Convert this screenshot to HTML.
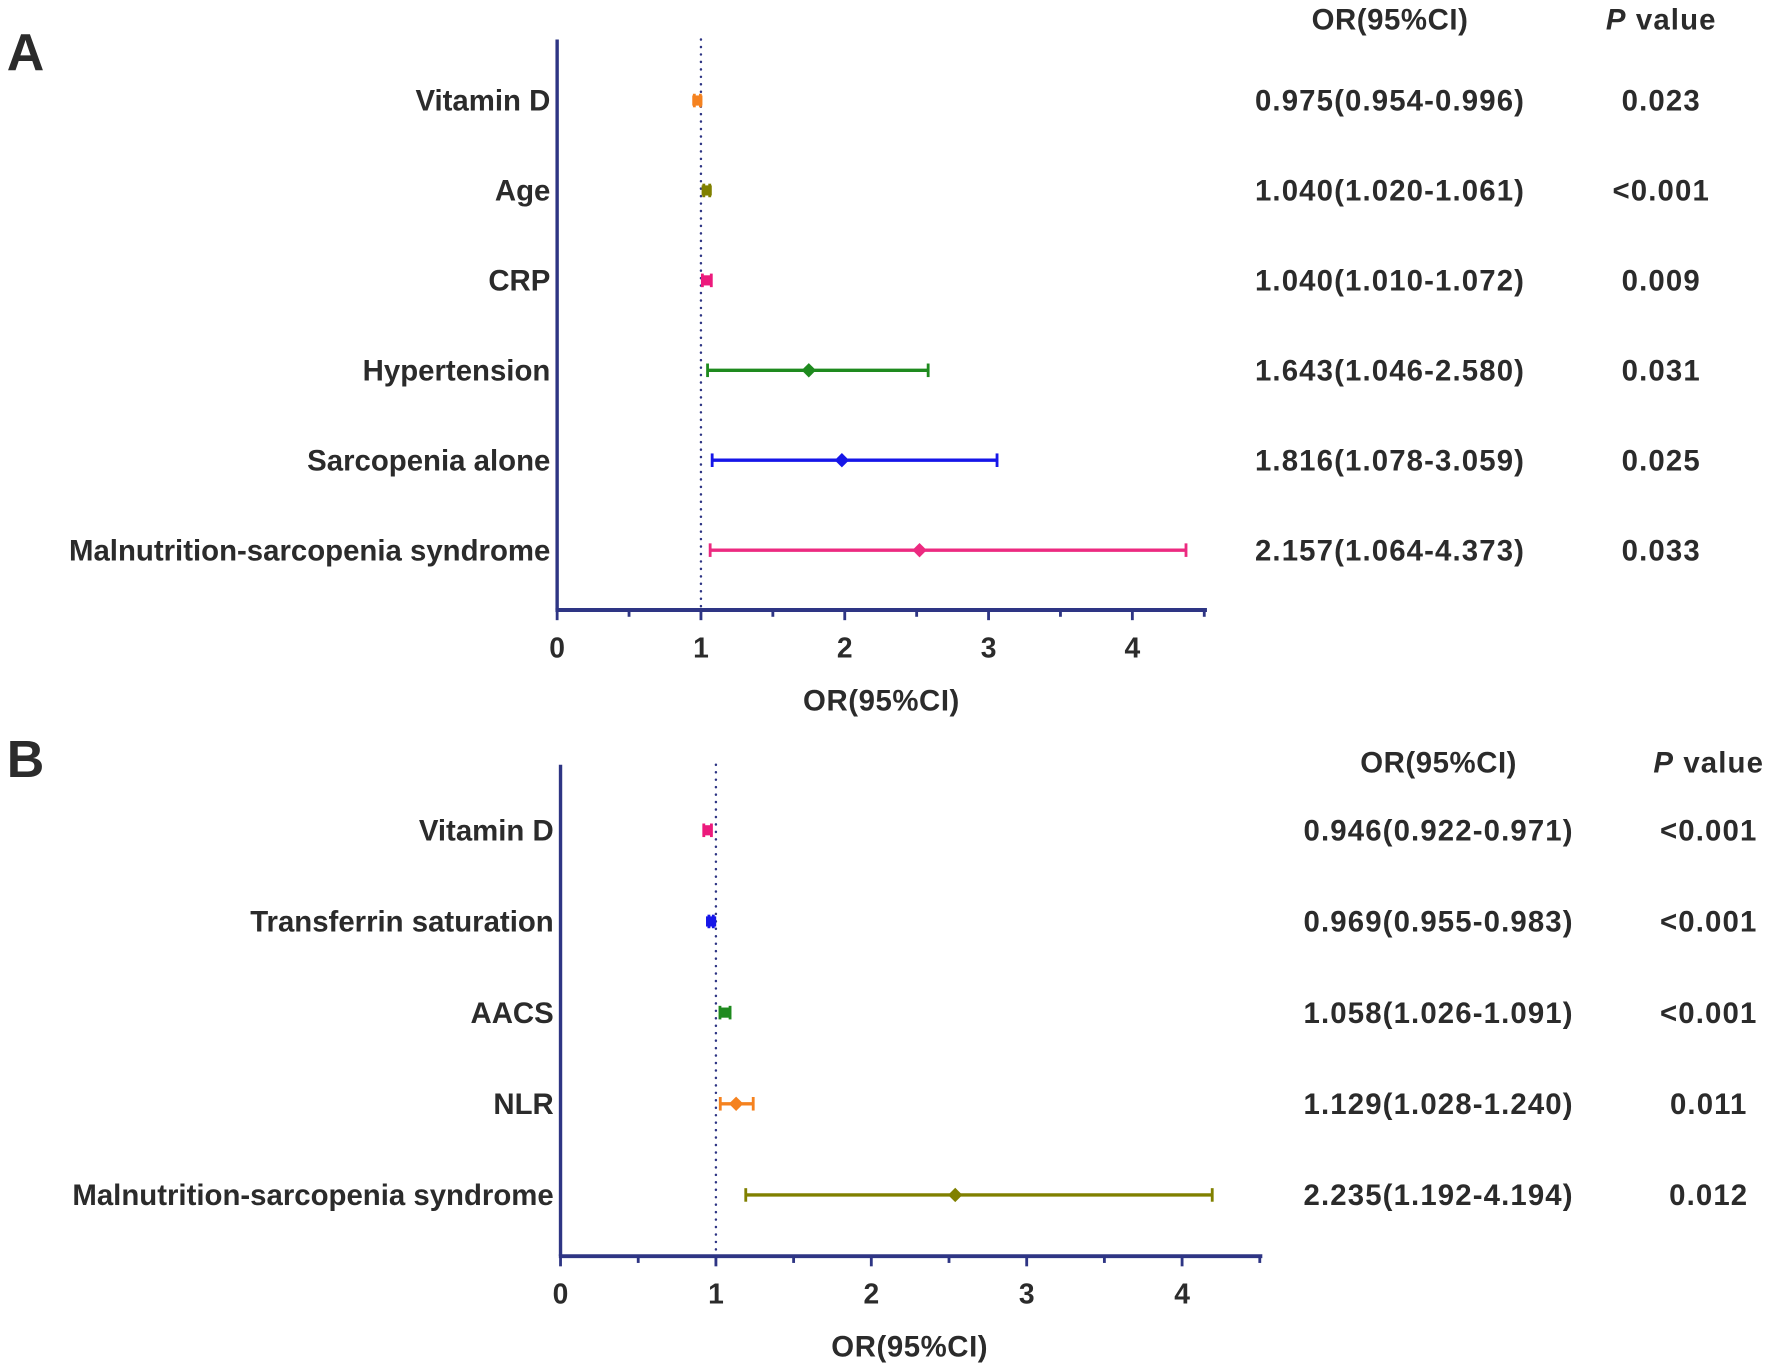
<!DOCTYPE html>
<html><head><meta charset="utf-8"><style>
html,body{margin:0;padding:0;background:#fff}
svg{display:block}
text{font-family:"Liberation Sans",Arial,sans-serif;font-weight:bold;fill:#2b2b2b}
</style></head><body>
<svg id="fig" width="1772" height="1368" viewBox="0 0 1568 1211" preserveAspectRatio="none" xmlns="http://www.w3.org/2000/svg"></svg>
<script>
// Panel A data
const catsA = ["Vitamin D","Age","CRP","Hypertension","Sarcopenia alone","Malnutrition-sarcopenia syndrome"];
const ptA = [0.975,1.04,1.04,1.75,1.98,2.52];
const loA = [0.954,1.02,1.01,1.046,1.078,1.064];
const hiA = [0.996,1.061,1.072,2.58,3.059,4.373];
const colA = ["#f5821f","#808000","#ec1a7c","#1e8a1e","#1616e8","#ec2a80"];
const orA = ["0.975(0.954-0.996)","1.040(1.020-1.061)","1.040(1.010-1.072)","1.643(1.046-2.580)","1.816(1.078-3.059)","2.157(1.064-4.373)"];
const pA = ["0.023","<0.001","0.009","0.031","0.025","0.033"];
// Panel B data
const catsB = ["Vitamin D","Transferrin saturation","AACS","NLR","Malnutrition-sarcopenia syndrome"];
const ptB = [0.946,0.969,1.058,1.13,2.54];
const loB = [0.922,0.955,1.026,1.028,1.192];
const hiB = [0.971,0.983,1.091,1.24,4.194];
const colB = ["#ec1a7c","#1616e8","#1e8a1e","#f5821f","#808000"];
const orB = ["0.946(0.922-0.971)","0.969(0.955-0.983)","1.058(1.026-1.091)","1.129(1.028-1.240)","2.235(1.192-4.194)"];
const pB = ["<0.001","<0.001","<0.001","0.011","0.012"];
const ticks = [0,1,2,3,4];

const NS="http://www.w3.org/2000/svg";
const svg=document.getElementById('fig');
function mk(tag,attrs,parent){const e=document.createElementNS(NS,tag);for(const k in attrs)e.setAttribute(k,attrs[k]);(parent||svg).appendChild(e);return e;}
function txt(s,x,y,size,anchor,parent){const t=mk('text',{x:x,y:y,'font-size':size,'text-anchor':anchor},parent);t.textContent=s;return t;}

function panel(cfg){
  const g=mk('g',{});
  
  
  const xs=v=>cfg.x0+(cfg.x4-cfg.x0)*v/4;
  const axis='#2e3584';
  const L=txt(cfg.letter,6,cfg.letterY,46,'start',g);
  
  
  L.setAttribute('fill','#000');
  const h1=txt('OR(95%CI)',cfg.orX,cfg.headY,26,'middle',g);
  
  
  h1.setAttribute('letter-spacing','0.5');
  const h2=mk('text',{x:cfg.pX,y:cfg.headY,'font-size':26,'text-anchor':'middle','letter-spacing':'1'},g);
  h2.innerHTML='<tspan font-style="italic">P</tspan> value';
  
  
  const ya=mk('line',{x1:cfg.x0,y1:cfg.top,x2:cfg.x0,y2:cfg.bot,stroke:axis,'stroke-width':3},g);
  
  
  const xa=mk('line',{x1:cfg.x0-1.5,y1:cfg.bot,x2:cfg.xEnd,y2:cfg.bot,stroke:axis,'stroke-width':3.5},g);
  
  
  for(let v=0;v<=4.5001;v+=0.5){
    const t=mk('line',{x1:xs(v),y1:cfg.bot,x2:xs(v),y2:cfg.bot+(Number.isInteger(v)?9:6),stroke:axis,'stroke-width':2.5},g);
    
    
  }
  ticks.forEach(v=>{
    const t=txt(String(v),xs(v),cfg.bot+42,25,'middle',g);
    
    
    t.setAttribute('fill','#333');
  });
  const xt=txt('OR(95%CI)',cfg.titleX,cfg.bot+89,26,'middle',g);
  
  
  xt.setAttribute('letter-spacing','0.5');
  const rl=mk('line',{x1:xs(1),y1:cfg.top,x2:xs(1),y2:cfg.bot-3,stroke:axis,'stroke-width':2.2,'stroke-dasharray':'0.1 6.5','stroke-linecap':'round'},g);
  
  
  cfg.cats.forEach((c,i)=>{
    const y=cfg.row0+i*cfg.rowH;
    const lb=txt(c,cfg.x0-6,y+9,26,'end',g);
    
    
    lb.setAttribute('fill','#111');
    const col=cfg.col[i];
    const lo=xs(cfg.lo[i]),hi=xs(cfg.hi[i]),p=xs(cfg.pt[i]);
    const ci=mk('line',{x1:lo,y1:y,x2:hi,y2:y,stroke:col,'stroke-width':3},g);
    
    
    [lo,hi].forEach(xx=>{
      const cap=mk('line',{x1:xx,y1:y-6,x2:xx,y2:y+6,stroke:col,'stroke-width':2.5},g);
      
      
    });
    const m=mk('rect',{x:p-4.5,y:y-4.5,width:9,height:9,fill:col,transform:(hi-lo>20?'rotate(45 '+p+' '+y+')':'')},g);
    
    
    const ot=txt(cfg.or[i],cfg.orX,y+9,26,'middle',g);
    
    
    ot.setAttribute('letter-spacing','1');
    const pt=txt(cfg.p[i],cfg.pX,y+9,26,'middle',g);
    
    
    pt.setAttribute('letter-spacing','1');
  });
}
panel({name:'panel-a',letter:'A',letterY:62,headY:26,x0:493,x4:1002,xEnd:1068,top:35,bot:540,row0:89,rowH:79.6,
  cats:catsA,pt:ptA,lo:loA,hi:hiA,col:colA,or:orA,p:pA,orX:1230,pX:1470,titleX:780});
panel({name:'panel-b',letter:'B',letterY:688,headY:684,x0:496,x4:1046,xEnd:1117,top:677,bot:1112,row0:735,rowH:80.7,
  cats:catsB,pt:ptB,lo:loB,hi:hiB,col:colB,or:orB,p:pB,orX:1273,pX:1512,titleX:805});
</script>
</body></html>
